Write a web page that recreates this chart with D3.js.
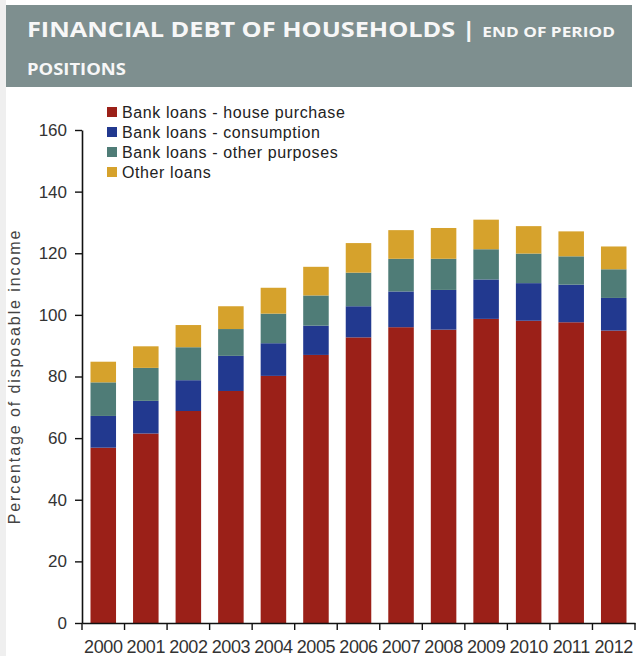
<!DOCTYPE html>
<html>
<head>
<meta charset="utf-8">
<script src="https://cdn.jsdelivr.net/npm/d3@7"></script>
<style>
  html, body { margin: 0; padding: 0; background: #ffffff; }
  svg { display: block; }
</style>
</head>
<body>
<svg id="chart" width="639" height="656"></svg>
<script>
// Household financial debt, % of disposable income, end-of-period positions
const years = ["2000","2001","2002","2003","2004","2005","2006","2007","2008","2009","2010","2011","2012"];
const housePurchase = [56.9, 61.5, 68.8, 75.3, 80.2, 87.0, 92.7, 96.0, 95.2, 98.7, 98.1, 97.6, 94.9];
const consumption   = [10.3, 10.6, 10.0, 11.4, 10.6,  9.5, 10.1, 11.6, 12.9, 12.8, 12.2, 12.2, 10.6];
const otherPurposes = [10.9, 10.7, 10.7,  8.7,  9.6,  9.8, 10.9, 10.6, 10.1,  9.8,  9.6,  9.2,  9.3];
const otherLoans    = [ 6.7,  7.0,  7.2,  7.4,  8.4,  9.3,  9.6,  9.3, 10.0,  9.6,  8.9,  8.1,  7.4];
const seriesNames = ["Bank loans - house purchase", "Bank loans - consumption", "Bank loans - other purposes", "Other loans"];
const seriesColors = ["#9b2018", "#22398f", "#4f7c77", "#d6a22c"];
const yTicks = [0, 20, 40, 60, 80, 100, 120, 140, 160];

const svg = d3.select("#chart");
const W = 639, H = 656;

// light frame strip on the left edge
svg.append("rect").attr("x", 0).attr("y", 0).attr("width", 6).attr("height", H).attr("fill", "#efefef");

// title banner (text set slightly wide, like the house style)
svg.append("rect").attr("x", 6).attr("y", 5).attr("width", 626).attr("height", 82).attr("fill", "#7e8f8f");
const titleG = svg.append("g").attr("transform", "translate(27,0) scale(1.15,1)")
  .attr("fill", "#f7f7f7")
  .attr("font-family", "'Open Sans', Lato, sans-serif")
  .attr("font-weight", 700);
const title = titleG.append("text").attr("x", 0).attr("y", 37);
title.append("tspan").attr("font-size", 22).text("FINANCIAL DEBT OF HOUSEHOLDS | ");
title.append("tspan").attr("font-size", 15).text("END OF PERIOD");
titleG.append("text").attr("x", 0).attr("y", 75)
  .attr("font-size", 16)
  .text("POSITIONS");

// scales
const margin = { left: 82, right: 4, top: 130, bottom: 33 };
const x = d3.scaleBand().domain(years)
  .range([margin.left, W - margin.right])
  .paddingInner(0.4).paddingOuter(0.2);
const y = d3.scaleLinear().domain([0, 160]).range([H - margin.bottom, margin.top]);

// stacked bars
const rows = years.map((yr, i) => ({
  year: yr,
  s0: housePurchase[i], s1: consumption[i], s2: otherPurposes[i], s3: otherLoans[i]
}));
const stack = d3.stack().keys(["s0", "s1", "s2", "s3"]);
const layers = stack(rows);

svg.append("g").selectAll("g")
  .data(layers)
  .join("g")
  .attr("fill", (d, i) => seriesColors[i])
  .selectAll("rect")
  .data(d => d)
  .join("rect")
  .attr("x", d => x(d.data.year))
  .attr("width", x.bandwidth())
  .attr("y", d => y(d[1]))
  .attr("height", d => y(d[0]) - y(d[1]));

// y axis
const yAxis = svg.append("g")
  .attr("transform", `translate(${margin.left},0)`)
  .call(d3.axisLeft(y).tickValues(yTicks).tickSize(7).tickSizeOuter(0).tickPadding(8));
yAxis.select(".domain").attr("stroke", "#111").attr("stroke-width", 1.6);
yAxis.selectAll(".tick line").attr("stroke", "#111").attr("stroke-width", 1.4);
yAxis.selectAll(".tick text")
  .attr("font-family", "'Liberation Sans', Arial, sans-serif")
  .attr("font-size", 17).attr("fill", "#333");

// x axis: labels centred on bars, tick marks at category boundaries
const xAxis = svg.append("g")
  .attr("transform", `translate(0,${y(0)})`)
  .call(d3.axisBottom(x).tickSize(0).tickPadding(17).tickSizeOuter(0));
xAxis.select(".domain").attr("stroke", "#111").attr("stroke-width", 1.6);
xAxis.selectAll(".tick text")
  .attr("font-family", "'Liberation Sans', Arial, sans-serif")
  .attr("font-size", 18).attr("letter-spacing", -0.4).attr("fill", "#333");
const bounds = d3.range(years.length + 1).map(i => x.range()[0] + i * x.step());
xAxis.selectAll("line.bound")
  .data(bounds)
  .join("line")
  .attr("class", "bound")
  .attr("x1", d => d).attr("x2", d => d)
  .attr("y1", 0).attr("y2", 7)
  .attr("stroke", "#111").attr("stroke-width", 1.4);

// y axis title
svg.append("text")
  .attr("transform", `translate(20,${(y(0) + y(160)) / 2}) rotate(-90)`)
  .attr("text-anchor", "middle")
  .attr("font-family", "'Liberation Sans', Arial, sans-serif")
  .attr("font-size", 16)
  .attr("letter-spacing", 1.9)
  .attr("fill", "#444")
  .text("Percentage of disposable income");

// legend
const legend = svg.append("g").attr("transform", "translate(107,112)");
const li = legend.selectAll("g").data(seriesNames).join("g")
  .attr("transform", (d, i) => `translate(0,${i * 20})`);
li.append("rect").attr("x", 0).attr("y", -5).attr("width", 10).attr("height", 10)
  .attr("fill", (d, i) => seriesColors[i]);
li.append("text").attr("x", 15).attr("y", 0).attr("dy", "0.35em")
  .attr("font-family", "'Liberation Sans', Arial, sans-serif")
  .attr("font-size", 16).attr("letter-spacing", 0.6)
  .attr("fill", "#222")
  .text(d => d);
</script>
</body>
</html>
